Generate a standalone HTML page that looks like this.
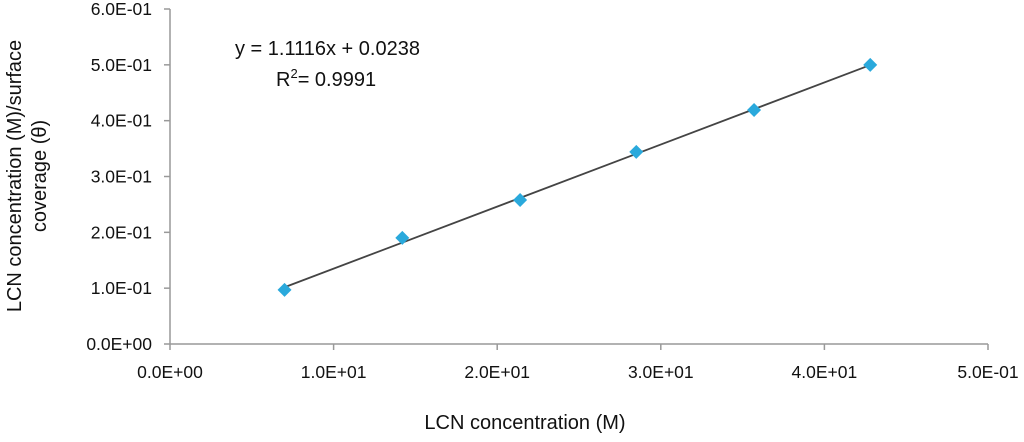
<!DOCTYPE html>
<html><head><meta charset="utf-8"><style>
body{margin:0;background:#fff;}
svg text{font-family:"Liberation Sans",Arial,sans-serif;fill:#111;}
</style></head><body>
<svg id="c" width="1024" height="437" xmlns="http://www.w3.org/2000/svg"></svg>
<script>
const xTicks=["0.0E+00","1.0E+01","2.0E+01","3.0E+01","4.0E+01","5.0E-01"];
const yTicks=["0.0E+00","1.0E-01","2.0E-01","3.0E-01","4.0E-01","5.0E-01","6.0E-01"];
const xVals=[7.0,14.2,21.4,28.5,35.7,42.8];
const yVals=[0.097,0.190,0.258,0.344,0.419,0.500];
const slope=1.1116, intercept=0.0238;
const NS="http://www.w3.org/2000/svg", svg=document.getElementById('c');
const X0=170,X1=988,Y0=344,Y1=9;
const sx=v=>X0+(v/50)*(X1-X0), sy=v=>Y0-(v/0.6)*(Y0-Y1);
function mk(t,a){const e=document.createElementNS(NS,t);for(const k in a)e.setAttribute(k,a[k]);svg.appendChild(e);return e;}
let e;
e=mk('line',{x1:X0,y1:Y1,x2:X0,y2:Y0,stroke:'#999','stroke-width':1.5});


e=mk('line',{x1:X0,y1:Y0,x2:X1,y2:Y0,stroke:'#999','stroke-width':1.5});


yTicks.forEach((t,i)=>{const y=sy(i*0.1);
 e=mk('line',{x1:X0-6,y1:y,x2:X0,y2:y,stroke:'#999','stroke-width':1.5});
 
 
 e=mk('text',{x:X0-18,y:y+6,'text-anchor':'end','font-size':17.5});e.textContent=t;
 
 });
xTicks.forEach((t,i)=>{const x=sx(i*10);
 e=mk('line',{x1:x,y1:Y0,x2:x,y2:Y0+6,stroke:'#999','stroke-width':1.5});
 
 
 e=mk('text',{x:x,y:Y0+34,'text-anchor':'middle','font-size':17.5});e.textContent=t;
 
 });
const xa=xVals[0],xb=xVals[xVals.length-1];
e=mk('line',{x1:sx(xa),y1:sy(slope*xa/100+intercept),x2:sx(xb),y2:sy(slope*xb/100+intercept),stroke:'#444','stroke-width':1.8});


xVals.forEach((v,i)=>{const x=sx(v),y=sy(yVals[i]);
 e=mk('polygon',{points:`${x},${y-7} ${x+7},${y} ${x},${y+7} ${x-7},${y}`,fill:'#2aa9dc'});
 
 });
e=mk('text',{x:235,y:55,'font-size':20});e.textContent='y = 1.1116x + 0.0238';


e=mk('text',{x:276,y:86,'font-size':20});e.innerHTML='R<tspan dy="-8" font-size="13">2</tspan><tspan dy="8">= 0.9991</tspan>';


e=mk('text',{x:525,y:429,'text-anchor':'middle','font-size':20});e.textContent='LCN concentration (M)';


e=mk('text',{x:0,y:0,'text-anchor':'middle','font-size':20,transform:'translate(21,176) rotate(-90)'});e.textContent='LCN concentration (M)/surface';


e=mk('text',{x:0,y:0,'text-anchor':'middle','font-size':20,transform:'translate(46,176) rotate(-90)'});e.textContent='coverage (θ)';


</script>
</body></html>
